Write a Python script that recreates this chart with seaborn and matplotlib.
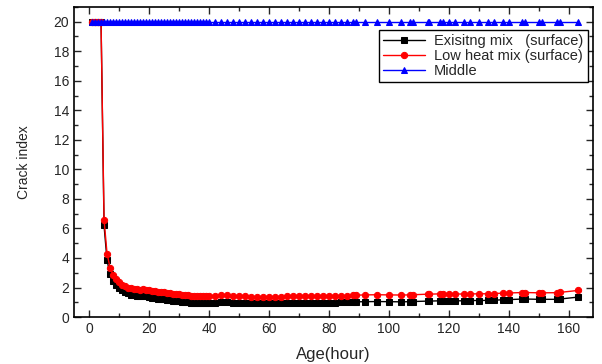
import matplotlib
matplotlib.use("Agg")
import matplotlib.pyplot as plt
import seaborn as sns
import pandas as pd
from matplotlib.ticker import MultipleLocator

sns.set_style("ticks")
plt.rcParams['font.family'] = ['Liberation Sans', 'DejaVu Sans']

age = [1, 2, 3, 4, 5, 6, 7, 8, 9, 10, 11, 12, 13, 14, 15, 16, 17, 18, 19, 20,
       21, 22, 23, 24, 25, 26, 27, 28, 29, 30, 31, 32, 33, 34, 35, 36, 37, 38, 39, 40,
       42, 44, 46, 48, 50, 52, 54, 56, 58, 60, 62, 64, 66, 68, 70, 72, 74, 76, 78, 80,
       82, 84, 86, 88, 89, 92, 96, 100, 104, 107, 108, 113, 113.5, 117, 118, 120, 122,
       125, 127, 130, 133, 135, 138, 140, 144.5, 145.5, 150, 151, 156, 157, 163]

existing = [20, 20, 20, 20, 6.2, 3.85, 2.9, 2.45, 2.15, 1.95, 1.8, 1.68, 1.6, 1.52, 1.47,
            1.43, 1.41, 1.42, 1.4, 1.35, 1.3, 1.27, 1.25, 1.22, 1.2, 1.17, 1.14, 1.12, 1.1,
            1.07, 1.05, 1.02, 1.0, 0.98, 0.97, 0.96, 0.96, 0.96, 0.97, 0.98, 0.98, 1.02, 1.0,
            0.98, 0.96, 0.95, 0.94, 0.93, 0.93, 0.94, 0.94, 0.95, 0.95, 0.95, 0.95, 0.96, 0.96,
            0.96, 0.97, 0.98, 0.98, 0.99, 1.0, 1.02, 1.03, 1.04, 1.05, 1.04, 1.03, 1.04, 1.05,
            1.08, 1.08, 1.1, 1.1, 1.1, 1.1, 1.1, 1.12, 1.12, 1.13, 1.14, 1.17, 1.18, 1.22, 1.22,
            1.2, 1.2, 1.2, 1.22, 1.35]

low_heat = [20, 20, 20, 20, 6.6, 4.3, 3.35, 2.85, 2.55, 2.35, 2.2, 2.08, 2.0, 1.95, 1.9,
            1.87, 1.86, 1.87, 1.85, 1.8, 1.76, 1.73, 1.71, 1.69, 1.67, 1.64, 1.61, 1.59, 1.56,
            1.54, 1.51, 1.48, 1.46, 1.44, 1.42, 1.41, 1.41, 1.42, 1.42, 1.43, 1.45, 1.48, 1.46,
            1.44, 1.42, 1.4, 1.38, 1.37, 1.37, 1.38, 1.38, 1.39, 1.4, 1.4, 1.4, 1.41, 1.41,
            1.42, 1.42, 1.43, 1.43, 1.44, 1.45, 1.47, 1.48, 1.5, 1.51, 1.5, 1.49, 1.5, 1.51,
            1.55, 1.55, 1.57, 1.57, 1.57, 1.56, 1.56, 1.57, 1.57, 1.58, 1.59, 1.62, 1.63, 1.66,
            1.66, 1.64, 1.64, 1.65, 1.67, 1.8]

middle = [20] * len(age)

series_names = ["Exisitng mix   (surface)", "Low heat mix (surface)", "Middle"]
colors = ["black", "red", "blue"]
markers = ["s", "o", "^"]
msizes = [4, 4.5, 4.5]

fig = plt.figure(figsize=(6.02, 3.64), dpi=100)
ax = fig.add_axes([0.123, 0.129, 0.862, 0.852])

for name, vals, c, m, ms in zip(series_names, [existing, low_heat, middle], colors, markers, msizes):
    df = pd.DataFrame({"Age": age, "val": vals})
    sns.lineplot(data=df, x="Age", y="val", ax=ax, color=c, marker=m, markersize=ms,
                 markeredgecolor=c, linewidth=1, label=name, estimator=None, sort=False)

ax.set_xlim(-5, 168)
ax.set_ylim(0, 21)
ax.xaxis.set_major_locator(MultipleLocator(20))
ax.xaxis.set_minor_locator(MultipleLocator(10))
ax.yaxis.set_major_locator(MultipleLocator(2))
ax.yaxis.set_minor_locator(MultipleLocator(1))
ax.tick_params(which="both", direction="in", top=True, right=True, labelsize=10)
ax.tick_params(which="major", length=5, width=1)
ax.tick_params(which="minor", length=3, width=1)
for s in ax.spines.values():
    s.set_linewidth(1.2)
    s.set_color("black")

ax.set_xlabel("Age(hour)", fontsize=12, labelpad=8)
ax.set_ylabel("Crack index", fontsize=10, labelpad=16)

leg = ax.legend(loc="upper right", bbox_to_anchor=(0.99, 0.926), fontsize=10.5,
                frameon=True, fancybox=False, edgecolor="black", framealpha=1,
                handlelength=2.9, borderpad=0.3, labelspacing=0.05, handletextpad=0.6,
                borderaxespad=0.0)
leg.get_frame().set_linewidth(1)

fig.savefig("out.png", dpi=100)
